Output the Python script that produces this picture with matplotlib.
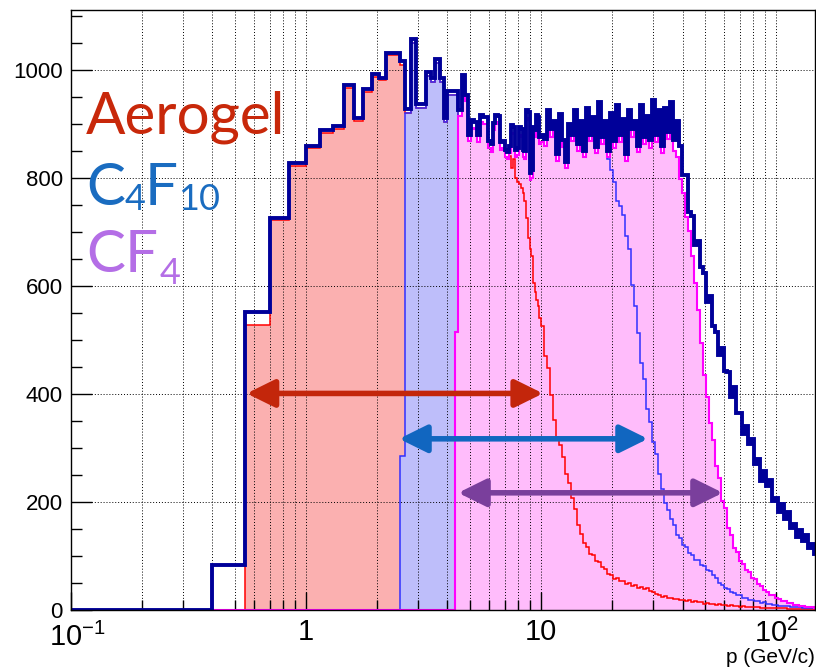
import matplotlib
matplotlib.use("Agg")
import matplotlib.pyplot as plt
import matplotlib.transforms as mtransforms
from matplotlib.ticker import FixedLocator, LogLocator, MultipleLocator, NullFormatter
import numpy as np

plt.rcParams['font.family'] = ['Liberation Sans', 'DejaVu Sans']
plt.rcParams['mathtext.fontset'] = 'custom'
plt.rcParams['mathtext.rm'] = 'Liberation Sans'

# binning: 0.15 GeV/c bins up to 10 GeV/c, then log-spaced bins up to ~150 GeV/c
fine_edges = 0.1 + 0.15 * np.arange(67)
coarse_edges = np.geomspace(10.0, 149.4, 93)
edges = np.concatenate([fine_edges, coarse_edges[1:]])

# all tracks (dark blue outline)
total_fine = [0, 0, 84, 552, 726, 827, 860, 889, 896, 972,
              911, 965, 992, 986, 1032, 1032, 1017, 928, 1057, 937,
              937, 996, 985, 1020, 985, 911, 961, 961, 961, 926,
              991, 954, 880, 907, 903, 880, 917, 912, 913, 868,
              862, 901, 917, 914, 866, 869, 852, 848, 860, 898,
              895, 852, 856, 894, 890, 852, 849, 926, 922, 809,
              815, 894, 889, 917, 912, 876]
total_coarse = [880, 872, 926, 890, 905, 845, 918, 870, 830, 900,
                880, 925, 862, 905, 850, 930, 880, 912, 858, 940,
                875, 905, 850, 920, 868, 935, 880, 910, 845, 925,
                890, 905, 860, 935, 875, 915, 870, 945, 880, 925,
                860, 930, 885, 940, 870, 905, 860, 805, 805, 737,
                730, 675, 683, 635, 624, 570, 582, 526, 515, 472,
                486, 442, 440, 394, 413, 365, 364, 326, 341, 308,
                316, 270, 279, 238, 258, 229, 240, 202, 208, 181,
                196, 169, 181, 151, 160, 135, 148, 128, 138, 114,
                122, 104]

# Aerogel
aerogel_fine = [0, 0, 0, 528, 722, 823, 856, 884, 891, 967,
                906, 960, 987, 981, 1027, 1027, 1010, 921, 1049, 930,
                929, 989, 977, 1012, 978, 904, 953, 954, 953, 914,
                978, 942, 868, 893, 890, 866, 903, 899, 900, 855,
                848, 888, 903, 900, 852, 856, 838, 836, 840, 818,
                835, 800, 792, 788, 782, 772, 758, 725, 688, 668,
                655, 605, 588, 574, 562, 540]
aerogel_coarse = [525, 470, 448, 398, 352, 320, 306, 283, 252, 236,
                  208, 187, 158, 140, 124, 116, 104, 101, 90, 88,
                  79, 76, 66, 65, 58, 59, 53, 54, 48, 50,
                  44, 46, 41, 43, 38, 40, 35, 34, 29, 28,
                  24, 25, 22, 23, 20, 21, 18, 19, 17, 18,
                  15, 16, 14, 15, 12, 13, 11, 12, 10, 11,
                  9, 10, 8, 9, 7, 8, 6, 7, 6, 6,
                  5, 5, 5, 4, 4, 4, 4, 3, 3, 3,
                  3, 3, 2, 2, 2, 2, 2, 2, 2, 1,
                  1, 1]

# C4F10
c4f10_fine = [0, 0, 0, 0, 0, 0, 0, 0, 0, 0,
              0, 0, 0, 0, 0, 0, 285, 921, 1049, 930,
              929, 989, 977, 1012, 978, 904, 953, 954, 953, 914,
              978, 942, 868, 893, 890, 866, 903, 899, 900, 855,
              848, 888, 903, 900, 852, 856, 838, 836, 846, 884,
              882, 839, 842, 880, 876, 838, 836, 911, 908, 796,
              800, 880, 876, 903, 898, 862]
c4f10_coarse = [866, 860, 912, 876, 892, 832, 904, 858, 818, 886,
                868, 911, 850, 892, 838, 916, 868, 898, 846, 926,
                862, 892, 835, 815, 792, 758, 748, 732, 692, 668,
                602, 562, 512, 458, 428, 372, 348, 312, 288, 252,
                224, 198, 185, 168, 158, 138, 133, 120, 116, 105,
                102, 93, 92, 84, 82, 74, 72, 64, 60, 50,
                47, 40, 39, 33, 32, 27, 27, 23, 23, 19,
                19, 16, 16, 13, 14, 11, 12, 9, 10, 8,
                8, 7, 7, 6, 6, 5, 5, 4, 4, 3,
                4, 3]

# CF4
cf4_fine = [0, 0, 0, 0, 0, 0, 0, 0, 0, 0,
            0, 0, 0, 0, 0, 0, 0, 0, 0, 0,
            0, 0, 0, 0, 0, 0, 0, 0, 514, 914,
            978, 942, 868, 893, 890, 866, 903, 899, 900, 855,
            848, 888, 903, 900, 852, 856, 838, 836, 846, 884,
            882, 839, 842, 880, 876, 838, 836, 911, 908, 796,
            800, 880, 876, 903, 898, 862]
cf4_coarse = [866, 860, 912, 876, 892, 832, 904, 858, 818, 886,
              868, 911, 850, 892, 838, 916, 868, 898, 846, 926,
              862, 892, 838, 906, 855, 921, 866, 896, 832, 912,
              876, 892, 848, 921, 862, 902, 856, 930, 866, 912,
              846, 916, 872, 926, 850, 838, 798, 772, 728, 702,
              655, 605, 555, 495, 436, 394, 346, 314, 266, 244,
              202, 188, 152, 138, 115, 108, 90, 86, 74, 71,
              60, 57, 48, 45, 37, 34, 28, 27, 22, 21,
              17, 17, 13, 13, 10, 10, 8, 8, 6, 6,
              5, 4]

# momentum ranges covered by each radiator (arrows)
ranges = [(0.559, 10.2, 401), (2.49, 28.5, 317), (4.44, 59.4, 217)]
range_colors = ['#c3260b', '#1166c0', '#7a3f9c']

total = np.array(total_fine + total_coarse)
aerogel = np.array(aerogel_fine + aerogel_coarse)
c4f10 = np.array(c4f10_fine + c4f10_coarse)
cf4 = np.array(cf4_fine + cf4_coarse)

fig = plt.figure(figsize=(8.16, 6.67), dpi=100)
ax = fig.add_axes([71 / 816, 57 / 667, 744 / 816, 600 / 667])

# pattern-like light fills, drawn in ROOT order (later one covers earlier)
for vals, fc in [(aerogel, '#fbb0b0'), (c4f10, '#bebefa'), (cf4, '#ffbcfb')]:
    ax.stairs(vals, edges, fill=True, color=fc, lw=0, zorder=1)

ax.stairs(aerogel, edges, color='#ff0000', lw=1.1, zorder=3)
ax.stairs(c4f10, edges, color='#3030ff', lw=1.1, zorder=3.1)
ax.stairs(cf4, edges, color='#ff00ff', lw=1.5, zorder=3.2)
ax.stairs(total, edges, color='#000099', lw=2.8, zorder=4)

ax.set_xscale('log')
ax.set_xlim(0.1, 146.5)
ax.set_ylim(0, 1111)

ax.xaxis.set_major_locator(FixedLocator([0.1, 1, 10, 100]))
ax.xaxis.set_minor_locator(LogLocator(base=10, subs=np.arange(2, 10)))
ax.xaxis.set_minor_formatter(NullFormatter())
ax.set_xticklabels([r'$\mathregular{10^{-1}}$', '1', '10', r'$\mathregular{10^{2}}$'])
ax.yaxis.set_major_locator(MultipleLocator(200))
ax.yaxis.set_minor_locator(MultipleLocator(50))

ax.tick_params(axis='both', which='both', direction='in', top=False, right=False, width=1)
ax.tick_params(axis='y', which='major', length=15, labelsize=16, pad=6)
ax.tick_params(axis='y', which='minor', length=8)
ax.tick_params(axis='x', which='major', length=13, labelsize=21, pad=6)
ax.tick_params(axis='x', which='minor', length=7)

# nudge the first x label away from the "0" of the y axis
first = ax.get_xticklabels()[0]
first.set_transform(first.get_transform() +
                    mtransforms.ScaledTranslation(6 / 100, -4 / 100, fig.dpi_scale_trans))

ax.set_axisbelow(False)
ax.grid(True, which='both', axis='x', color='black', lw=0.7, ls=(0, (1, 2)))
ax.grid(True, which='major', axis='y', color='black', lw=0.7, ls=(0, (1, 2)))
for sp in ax.spines.values():
    sp.set_linewidth(1)
    sp.set_zorder(6)

for (x1, x2, y), c in zip(ranges, range_colors):
    ax.annotate('', xy=(x2, y), xytext=(x1, y), zorder=10,
                arrowprops=dict(arrowstyle='<|-|>,head_length=0.85,head_width=0.42',
                                color=c, lw=4, shrinkA=0, shrinkB=0, mutation_scale=20))

fig.text(815 / 816, 1 - 663 / 667, 'p (GeV/c)', ha='right', va='baseline', fontsize=15)

# radiator labels (pixel positions from the reference)
def ptext(x, y, s, size, color):
    fig.text(x / 816, 1 - y / 667, s, fontsize=size, color=color, family='Lato',
             ha='left', va='baseline')

ptext(86, 133, 'Aerogel', 42, '#c8280a')
ptext(86, 205, 'C', 42, '#1a6cc0')
ptext(125, 210, '4', 26, '#1a6cc0')
ptext(145, 205, 'F', 42, '#1a6cc0')
ptext(178, 210, '10', 26, '#1a6cc0')
ptext(86, 272, 'CF', 42, '#b46ee6')
ptext(160, 284, '4', 26, '#b46ee6')

fig.savefig('out.png', dpi=100)
